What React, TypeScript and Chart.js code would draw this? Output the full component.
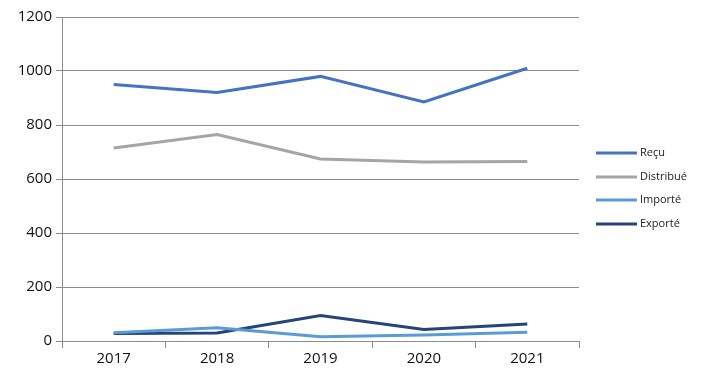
import React, { useEffect, useRef } from "react";
import { Chart, registerables } from "chart.js";

Chart.register(...registerables);

const years = ["2017", "2018", "2019", "2020", "2021"];
const recu = [950, 920, 980, 885, 1010];
const distribue = [715, 765, 674, 663, 665];
const importe = [31, 49, 16, 22, 32];
const exporte = [28, 30, 94, 43, 63];
const seriesNames = ["Reçu", "Distribué", "Importé", "Exporté"];
const seriesColors = ["#4472C4", "#A5A5A5", "#5B9BD5", "#264478"];

const FONT = "'Open Sans', 'Liberation Sans', sans-serif";

const legendPlugin = {
  id: "customLegend",
  afterDraw(chart: any) {
    const ctx = chart.ctx;
    const ys = [153, 177, 200, 224];
    ctx.save();
    chart.data.datasets.forEach((ds: any, i: number) => {
      const y = ys[i];
      ctx.strokeStyle = ds.borderColor;
      ctx.lineWidth = 3;
      ctx.lineCap = "butt";
      ctx.beginPath();
      ctx.moveTo(596, y);
      ctx.lineTo(637, y);
      ctx.stroke();
      ctx.fillStyle = "#222";
      ctx.font = `11px ${FONT}`;
      ctx.textBaseline = "middle";
      ctx.textAlign = "left";
      ctx.fillText(ds.label, 640, y);
    });
    ctx.restore();
  },
};

export default function App() {
  const ref = useRef<HTMLCanvasElement | null>(null);
  useEffect(() => {
    if (!ref.current) return;
    const data = [recu, distribue, importe, exporte];
    const chart = new Chart(ref.current, {
      type: "line",
      data: {
        labels: years,
        datasets: data.map((d, i) => ({
          label: seriesNames[i],
          data: d,
          borderColor: seriesColors[i],
          backgroundColor: seriesColors[i],
          borderWidth: 3,
          pointRadius: 0,
          tension: 0,
          fill: false,
        })),
      },
      options: {
        responsive: false,
        animation: false,
        layout: { padding: { top: 17, right: 123, left: 0, bottom: 0 } },
        plugins: { legend: { display: false }, tooltip: { enabled: false } },
        scales: {
          x: {
            offset: true,
            grid: {
              offset: true,
              drawOnChartArea: false,
              drawTicks: true,
              tickLength: 7,
              color: "#8c8c8c",
            },
            border: { color: "#8c8c8c" },
            ticks: {
              color: "#111",
              font: { family: FONT, size: 15 },
              padding: 2,
              maxRotation: 0,
            },
            afterFit: (s: any) => {
              s.height = 36;
            },
          },
          y: {
            min: 0,
            max: 1200,
            ticks: {
              stepSize: 200,
              color: "#111",
              font: { family: FONT, size: 15 },
              padding: 4,
              callback: (v: any) => String(v),
            },
            grid: { color: "#8c8c8c", tickLength: 6, drawTicks: true },
            border: { color: "#8c8c8c" },
            afterFit: (s: any) => {
              s.width = 62;
            },
          },
        },
      },
      plugins: [legendPlugin],
    });
    return () => chart.destroy();
  }, []);
  return (
    <div style={{ position: "fixed", left: 0, top: 0, width: 702, height: 377, background: "#fff" }}>
      <canvas ref={ref} width={702} height={377} style={{ width: 702, height: 377 }} />
    </div>
  );
}
